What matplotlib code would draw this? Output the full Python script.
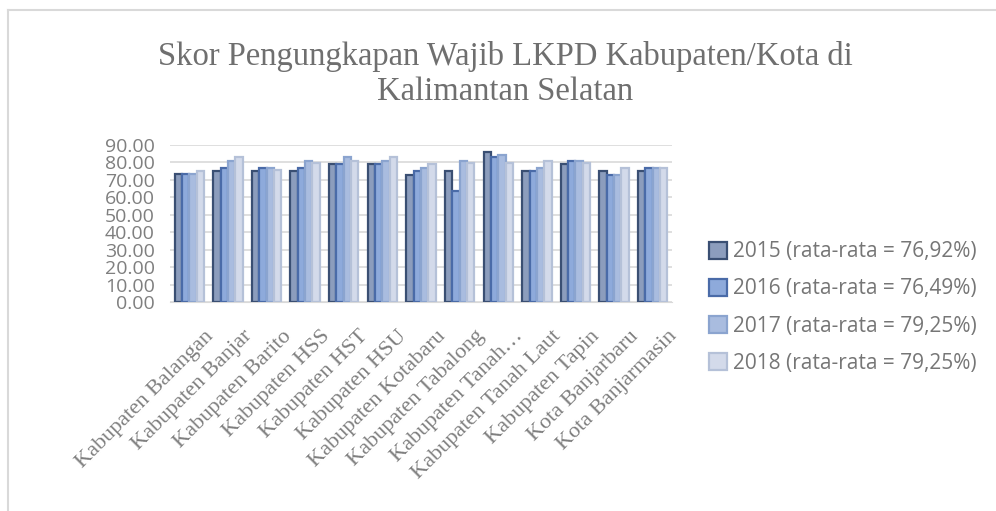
import numpy as np
import matplotlib.pyplot as plt
import matplotlib.transforms as mtransforms
from matplotlib.lines import Line2D

categories = ["Kabupaten Balangan", "Kabupaten Banjar", "Kabupaten Barito", "Kabupaten HSS",
              "Kabupaten HST", "Kabupaten HSU", "Kabupaten Kotabaru", "Kabupaten Tabalong",
              "Kabupaten Tanah…", "Kabupaten Tanah Laut", "Kabupaten Tapin",
              "Kota Banjarbaru", "Kota Banjarmasin"]
s2015 = [73.4, 75.3, 75.3, 75.3, 79.1, 79.1, 73.0, 75.3, 85.9, 75.3, 79.1, 75.3, 75.3]
s2016 = [73.4, 77.0, 77.0, 77.0, 79.1, 79.1, 75.3, 63.8, 82.9, 75.3, 80.6, 73.0, 77.0]
s2017 = [73.4, 80.6, 77.0, 80.6, 82.9, 80.6, 77.0, 80.6, 84.4, 77.0, 80.6, 73.0, 77.0]
s2018 = [75.3, 82.9, 75.6, 79.4, 80.6, 82.9, 79.1, 79.4, 79.4, 80.6, 79.4, 77.0, 77.0]
series_labels = ["2015 (rata-rata = 76,92%)", "2016 (rata-rata = 76,49%)",
                 "2017 (rata-rata = 79,25%)", "2018 (rata-rata = 79,25%)"]
yticks = [0, 10, 20, 30, 40, 50, 60, 70, 80, 90]

fills = ["#8c9dbd", "#8eaadb", "#a9bcdf", "#d3daea"]
edges = ["#3a4f73", "#4a6ba8", "#8ba4cf", "#b5c1d8"]
grey = "#7f7f7f"

fig = plt.figure(figsize=(9.96, 5.11), dpi=100)
ax = fig.add_axes([170 / 996, (511 - 302) / 511, 502 / 996, 157 / 511])

x = np.arange(len(categories))
w = 0.19
for i, vals in enumerate([s2015, s2016, s2017, s2018]):
    ax.bar(x + (i - 1.5) * w, vals, width=w, color=fills[i], edgecolor=edges[i],
           linewidth=1.6, label=series_labels[i], zorder=3)

ax.set_xlim(-0.5, len(categories) - 0.5)
ax.set_ylim(0, 90)
ax.set_yticks(yticks)
ax.set_yticklabels([f"{v:.2f}" for v in yticks], fontfamily="Open Sans",
                   fontsize=14, color=grey)
ax.yaxis.grid(True, color="#d9d9d9", linewidth=1.2, zorder=0)
ax.tick_params(axis="y", length=0, pad=11)
ax.tick_params(axis="x", length=0, pad=2)
ax.set_xticks(x)
ax.set_xticklabels(categories, rotation=45, ha="right", rotation_mode="anchor",
                   fontfamily="Liberation Serif", fontsize=16, color=grey)
# push the slanted labels down/right like the spreadsheet chart
shift = mtransforms.ScaledTranslation(15 / 100, -22 / 100, fig.dpi_scale_trans)
for lab in ax.get_xticklabels():
    lab.set_transform(lab.get_transform() + shift)
for s in ["top", "right", "left"]:
    ax.spines[s].set_visible(False)
ax.spines["bottom"].set_color("#d9d9d9")

fig.text(505 / 996, 1 - 74 / 511, "Skor Pengungkapan Wajib LKPD Kabupaten/Kota di\nKalimantan Selatan",
         ha="center", va="center", fontfamily="Liberation Serif", fontsize=23.5,
         color="#6f6f6f", linespacing=1.2)

leg = ax.legend(loc="center left", bbox_to_anchor=(709 / 996, (511 - 307.5) / 511),
                bbox_transform=fig.transFigure, frameon=False,
                prop={"family": "Open Sans", "size": 15}, labelcolor="#767676",
                handlelength=0.87, handleheight=0.87, handletextpad=0.3,
                labelspacing=0.77, borderpad=0, borderaxespad=0)

fig.add_artist(Line2D([8 / 996, 1], [1 - 10 / 511, 1 - 10 / 511], color="#d9d9d9", linewidth=1.5))
fig.add_artist(Line2D([8 / 996, 8 / 996], [0, 1 - 10 / 511], color="#d9d9d9", linewidth=1.5))

fig.savefig("out.png", dpi=100)
